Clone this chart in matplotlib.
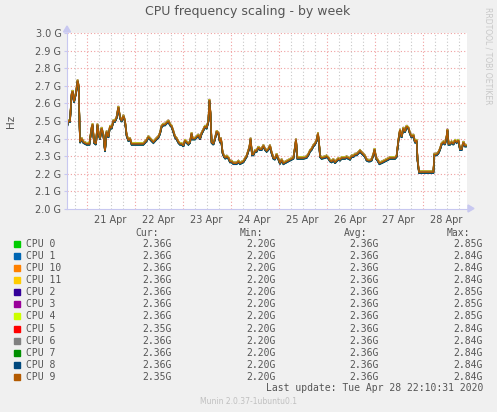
import datetime as dt
import matplotlib
matplotlib.use("Agg")
import matplotlib.pyplot as plt
import matplotlib.dates as mdates
from matplotlib.patches import Rectangle

# hours after the start of the window, and frequency in GHz
hours = [0, 0.7, 1.5, 2.3, 2.8, 3.5, 4.5, 5.3, 5.8, 6.5, 7.3, 8.2, 9.8, 11.2, 12.3, 12.8,
         13.5, 14.5, 15.2, 15.8, 16.5, 17.3, 18.2, 19.0, 19.8, 20.7, 21.5, 22.3, 23.2, 24.0,
         24.8, 25.7, 26.5, 27.3, 28.2, 29.0, 29.8, 30.7, 31.5, 32.3, 33.2, 34.8, 36.5, 38.2,
         39.8, 40.7, 41.5, 42.3, 43.2, 44.0, 44.8, 45.7, 46.5, 47.3, 48.2, 49.0, 49.8, 50.7,
         51.5, 52.3, 53.2, 54.0, 54.8, 55.7, 56.5, 57.3, 58.2, 59.0, 59.8, 60.7, 61.5, 62.3,
         62.8, 64.0, 64.8, 65.7, 66.5, 67.3, 68.2, 69.0, 69.8, 70.7, 71.2, 71.7, 72.3, 73.2,
         74.0, 74.8, 75.7, 76.5, 77.0, 77.8, 78.5, 79.2, 79.8, 80.7, 81.5, 82.3, 83.2, 84.0,
         84.8, 85.7, 86.5, 88.2, 89.8, 91.2, 91.8, 92.5, 93.2, 94.0, 94.8, 95.7, 96.5, 97.3,
         98.2, 99.0, 99.8, 100.7, 101.5, 102.3, 103.2, 104.0, 104.8, 105.7, 106.5, 107.3,
         108.2, 109.0, 109.8, 110.7, 111.5, 112.3, 113.2, 114.0, 114.5, 115.2, 116.5, 118.2,
         119.8, 120.7, 121.5, 122.3, 123.2, 124.0, 124.8, 125.5, 126.2, 126.5, 127.3, 129.0,
         129.8, 130.7, 131.5, 132.3, 133.2, 134.0, 134.8, 135.7, 136.5, 137.3, 138.2, 139.0,
         139.8, 140.7, 141.5, 142.3, 143.2, 144.0, 144.8, 145.7, 146.5, 147.3, 148.2, 149.0,
         149.8, 150.7, 151.5, 152.3, 153.2, 153.8, 154.5, 155.2, 156.2, 157.3, 158.2, 159.0,
         159.8, 160.7, 161.5, 162.3, 163.2, 164.0, 164.8, 165.7, 166.5, 167.3, 168.2, 169.0,
         169.8, 170.7, 171.5, 172.3, 173.2, 174.0, 174.8, 175.3, 176.0, 177.3, 179.0, 180.7,
         182.3, 183.2, 183.7, 184.8, 185.7, 186.5, 187.3, 188.2, 189.0, 189.8, 190.2, 190.8,
         191.5, 192.3, 193.2, 194.0, 194.8, 195.7, 196.5, 197.3, 198.2, 199.0, 199.5]
freq = [2.47, 2.50, 2.50, 2.65, 2.67, 2.61, 2.66, 2.73, 2.70, 2.38, 2.40, 2.38, 2.37, 2.37, 2.46, 2.48,
        2.38, 2.37, 2.48, 2.43, 2.40, 2.46, 2.42, 2.33, 2.44, 2.41, 2.47, 2.46, 2.50, 2.50,
        2.52, 2.58, 2.52, 2.50, 2.53, 2.50, 2.42, 2.39, 2.40, 2.37, 2.37, 2.37, 2.37, 2.37,
        2.39, 2.41, 2.40, 2.39, 2.38, 2.39, 2.40, 2.41, 2.43, 2.47, 2.48, 2.48, 2.49, 2.50,
        2.48, 2.47, 2.44, 2.41, 2.40, 2.38, 2.37, 2.37, 2.36, 2.39, 2.38, 2.37, 2.38, 2.43,
        2.40, 2.40, 2.41, 2.42, 2.40, 2.43, 2.45, 2.47, 2.46, 2.50, 2.62, 2.55, 2.38, 2.37,
        2.40, 2.44, 2.43, 2.38, 2.40, 2.32, 2.30, 2.29, 2.30, 2.29, 2.27, 2.27, 2.26, 2.26,
        2.26, 2.27, 2.26, 2.27, 2.30, 2.35, 2.40, 2.31, 2.31, 2.33, 2.33, 2.35, 2.34, 2.34,
        2.36, 2.34, 2.33, 2.34, 2.36, 2.32, 2.29, 2.285, 2.31, 2.285, 2.26, 2.28,
        2.26, 2.265, 2.27, 2.275, 2.28, 2.285, 2.29, 2.35, 2.395, 2.29, 2.29, 2.29,
        2.295, 2.31, 2.33, 2.34, 2.36, 2.37, 2.39, 2.43, 2.35, 2.30, 2.29, 2.295,
        2.30, 2.29, 2.275, 2.27, 2.28, 2.265, 2.275, 2.285, 2.28, 2.29, 2.29, 2.29,
        2.295, 2.29, 2.285, 2.30, 2.30, 2.31, 2.31, 2.32, 2.33, 2.32, 2.31, 2.30,
        2.28, 2.275, 2.275, 2.28, 2.31, 2.34, 2.29, 2.28, 2.26, 2.265, 2.27, 2.275,
        2.28, 2.285, 2.29, 2.29, 2.29, 2.29, 2.30, 2.39, 2.45, 2.41, 2.46, 2.44,
        2.47, 2.46, 2.43, 2.41, 2.42, 2.38, 2.39, 2.275, 2.21, 2.21, 2.21, 2.21,
        2.21, 2.21, 2.31, 2.31, 2.32, 2.34, 2.37, 2.38, 2.37, 2.41, 2.45, 2.37,
        2.37, 2.38, 2.37, 2.39, 2.38, 2.39, 2.34, 2.34, 2.38, 2.36, 2.36]

cpus = ["CPU 0", "CPU 1", "CPU 10", "CPU 11", "CPU 2", "CPU 3",
        "CPU 4", "CPU 5", "CPU 6", "CPU 7", "CPU 8", "CPU 9"]
colors = ["#00cc00", "#0066b3", "#ff8000", "#ffcc00", "#330099", "#990099",
          "#ccff00", "#ff0000", "#808080", "#008f00", "#00487d", "#b35a00"]
# small per-core spread around the common curve (GHz)
spread = [0.004, -0.004, 0.002, 0.003, -0.002, 0.006,
          0.005, -0.003, 0.001, -0.005, -0.006, 0.0]
cur = ["2.36G", "2.36G", "2.36G", "2.36G", "2.36G", "2.36G",
       "2.36G", "2.35G", "2.36G", "2.36G", "2.36G", "2.35G"]
mins = ["2.20G"] * 12
avg = ["2.36G"] * 12
maxs = ["2.85G", "2.84G", "2.84G", "2.84G", "2.85G", "2.85G",
        "2.85G", "2.84G", "2.84G", "2.84G", "2.84G", "2.84G"]

end = dt.datetime(2020, 4, 28, 22, 10, 31)
start = end - dt.timedelta(hours=200)
times = [start + dt.timedelta(hours=h) for h in hours]

W, H = 497, 412
bg = "#f0f0f0"
txt = "#555555"
axcol = "#c8c8f0"

fig = plt.figure(figsize=(W / 100, H / 100), dpi=100, facecolor=bg)
ax = fig.add_axes([67 / W, 1 - 209 / H, 400 / W, 176 / H])
ax.set_facecolor("white")

for name, c, off in zip(cpus, colors, spread):
    ax.plot(times, [v + off for v in freq], color=c, lw=1.1, solid_joinstyle="miter")

ax.set_xlim(start, end)
ax.set_ylim(2.0, 3.0)

yt = [2.0 + 0.1 * i for i in range(11)]
ax.set_yticks(yt)
ax.set_yticklabels([f"{v:.1f} G" for v in yt])
for v in yt[1:]:
    ax.axhline(v, color="#f0a0a0", lw=0.8, ls=(0, (1, 2)), zorder=0)

# 6 hour grid (grey) and day grid (red)
t = start.replace(minute=0, second=0) + dt.timedelta(hours=4)
while t < end:
    if t.hour == 0:
        ax.axvline(t, color="#f0a0a0", lw=0.8, ls=(0, (1, 2)), zorder=0)
    else:
        ax.axvline(t, color="#c8c8c8", lw=0.8, ls=(0, (1, 2)), zorder=0)
    t += dt.timedelta(hours=6)

ax.xaxis.set_major_locator(mdates.HourLocator(byhour=[12]))
ax.xaxis.set_major_formatter(mdates.DateFormatter("%d %b"))
ax.tick_params(axis="x", length=0, labelsize=7, labelcolor=txt, pad=4)
ax.tick_params(axis="y", length=2, color=axcol, labelsize=7, labelcolor=txt, pad=2)

for s in ["top", "right"]:
    ax.spines[s].set_visible(False)
for s in ["left", "bottom"]:
    ax.spines[s].set_color(axcol)
    ax.spines[s].set_linewidth(0.8)

# axis arrows
fig.patches.append(plt.Polygon([[468 / W, 1 - 205 / H], [468 / W, 1 - 212 / H], [474 / W, 1 - 208.5 / H]],
                               closed=True, transform=fig.transFigure, color=axcol))
fig.patches.append(plt.Polygon([[63.5 / W, 1 - 32 / H], [70.5 / W, 1 - 32 / H], [67 / W, 1 - 26 / H]],
                               closed=True, transform=fig.transFigure, color=axcol))

fig.text(248 / W, 1 - 12 / H, "CPU frequency scaling - by week", ha="center", va="center",
         fontsize=9, color=txt)
fig.text(11 / W, 1 - 121 / H, "Hz", rotation=90, ha="center", va="center", fontsize=7.5, color=txt)
fig.text(488 / W, 1 - 56 / H, "RRDTOOL / TOBI OETIKER", rotation=-90, ha="center", va="center",
         fontsize=5.5, color="#c8c8c8")

mono = "DejaVu Sans Mono"
col_x = [172, 276, 379, 483]
head_x = [159, 263, 367, 470]
for hx, h in zip(head_x, ["Cur:", "Min:", "Avg:", "Max:"]):
    fig.text(hx / W, 1 - 233 / H, h, ha="right", va="center", family=mono, fontsize=7, color=txt)

for i, name in enumerate(cpus):
    y = 244.3 + i * 12.03
    fig.patches.append(Rectangle((14 / W, 1 - (y + 3) / H), 6 / W, 6 / H,
                                 transform=fig.transFigure, color=colors[i]))
    fig.text(26.5 / W, 1 - y / H, name, ha="left", va="center", family=mono, fontsize=7, color=txt)
    for cx, val in zip(col_x, [cur[i], mins[i], avg[i], maxs[i]]):
        fig.text(cx / W, 1 - y / H, val, ha="right", va="center", family=mono, fontsize=7, color=txt)

fig.text(483 / W, 1 - 388 / H, "Last update: Tue Apr 28 22:10:31 2020", ha="right", va="center",
         family=mono, fontsize=7, color=txt)
fig.text(248 / W, 1 - 402 / H, "Munin 2.0.37-1ubuntu0.1", ha="center", va="center",
         fontsize=5.5, color="#c0c0c0")

fig.savefig("out.png", dpi=100, facecolor=bg)
